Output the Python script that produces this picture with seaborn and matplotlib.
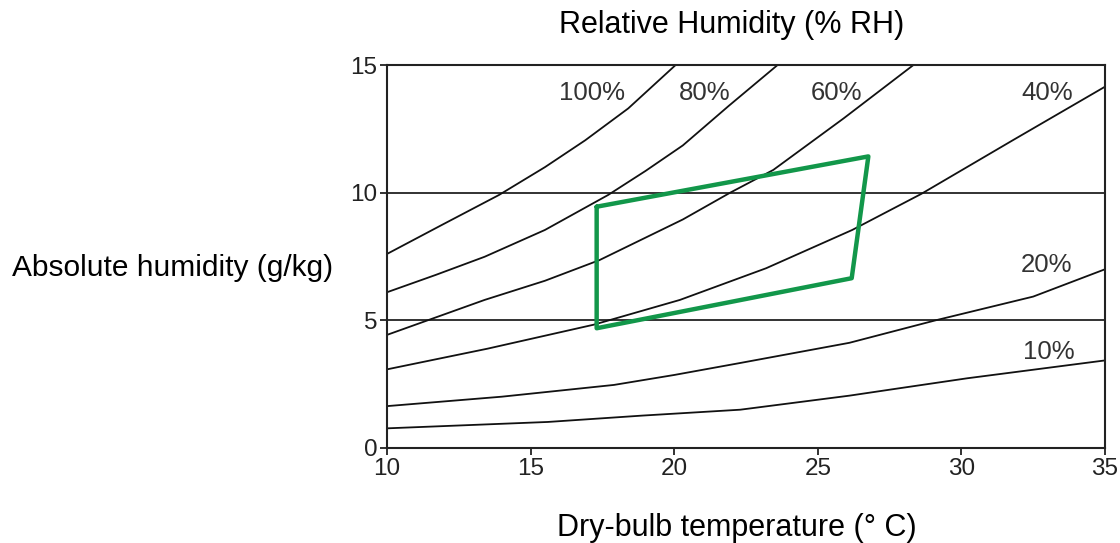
import matplotlib
matplotlib.use("Agg")
import matplotlib.pyplot as plt
import seaborn as sns
import pandas as pd

# ---- data ----
t100 = [10, 11.9, 13.9, 15.5, 16.9, 18.4, 20.05]
w100 = [7.6, 8.73, 9.91, 11.0, 12.05, 13.3, 15.0]

t80 = [10, 11.7, 13.4, 15.5, 17.7, 19.0, 20.3, 21.9, 23.6]
w80 = [6.1, 6.78, 7.49, 8.54, 9.91, 10.85, 11.85, 13.4, 15.0]

t60 = [10, 13.4, 15.5, 17.4, 20.3, 21.95, 23.45, 25.9, 28.33]
w60 = [4.43, 5.8, 6.55, 7.36, 8.95, 10.0, 10.89, 12.91, 15.0]

t40 = [10, 13.5, 17.2, 20.2, 23.2, 26.2, 28.6, 31.8, 35]
w40 = [3.08, 3.89, 4.83, 5.8, 7.04, 8.54, 9.95, 12.06, 14.15]

t20 = [10, 14, 17.9, 20, 22.3, 26.1, 29.1, 32.5, 35]
w20 = [1.64, 2.01, 2.47, 2.86, 3.33, 4.12, 5.0, 5.93, 7.0]

t10 = [10, 15.6, 18.9, 22.3, 26.1, 27.6, 30.2, 35]
w10 = [0.77, 1.02, 1.27, 1.5, 2.05, 2.3, 2.73, 3.43]

rh_labels = ["100%", "80%", "60%", "40%", "20%", "10%"]
label_t = [17.13, 21.07, 25.66, 32.97, 32.97, 33.03]
label_w = [13.9, 13.9, 13.9, 13.9, 7.17, 3.77]

zone_t = [17.3, 26.76, 26.18, 17.3, 17.3]
zone_w = [9.45, 11.42, 6.65, 4.69, 9.45]

x_ticks = [10, 15, 20, 25, 30, 35]
y_ticks = [0, 5, 10, 15]
grid_y = [5, 10]

title_text = "Relative Humidity (% RH)"
xlabel_text = "Dry-bulb temperature (° C)"
ylabel_text = "Absolute humidity (g/kg)"

# ---- build long-form table ----
curves = {"100%": (t100, w100), "80%": (t80, w80), "60%": (t60, w60),
          "40%": (t40, w40), "20%": (t20, w20), "10%": (t10, w10)}
rows = []
for name, (ts, ws) in curves.items():
    for t, w in zip(ts, ws):
        rows.append({"rh": name, "t": t, "w": w})
df = pd.DataFrame(rows)
zone = pd.DataFrame({"t": zone_t, "w": zone_w})

sns.set_theme(style="white")
plt.rcParams["font.family"] = ["Liberation Sans", "DejaVu Sans"]

fig = plt.figure(figsize=(11.2, 5.43), dpi=100)
ax = fig.add_axes([387 / 1120, 1 - 448 / 543, (1105 - 387) / 1120, (448 - 65) / 543])

for y in grid_y:
    ax.axhline(y, color="#222222", lw=1.3, zorder=1)

sns.lineplot(data=df, x="t", y="w", units="rh", estimator=None, sort=False,
             color="#111111", lw=1.3, ax=ax, legend=False, zorder=2)
sns.lineplot(data=zone, x="t", y="w", sort=False, estimator=None,
             color="#12974a", lw=3.2, ax=ax, legend=False, zorder=3)

for lab, tx, wy in zip(rh_labels, label_t, label_w):
    ax.text(tx, wy, lab, ha="center", va="center", fontsize=18.5,
            color="#333333", zorder=4)

ax.set_xlim(10, 35)
ax.set_ylim(0, 15)
ax.set_xticks(x_ticks)
ax.set_yticks(y_ticks)
ax.tick_params(axis="both", labelsize=17.5, colors="#222222", length=5,
               width=1.3, direction="out", pad=2, bottom=True, left=True)
for s in ax.spines.values():
    s.set_visible(True)
    s.set_color("#222222")
    s.set_linewidth(1.5)
ax.set_xlabel("")
ax.set_ylabel("")

fig.text(732 / 1120, 1 - 25 / 543, title_text, ha="center", va="center",
         fontsize=22, color="black")
fig.text(737 / 1120, 1 - 528 / 543, xlabel_text, ha="center", va="center",
         fontsize=22, color="black")
fig.text(333 / 1120, 1 - 268 / 543, ylabel_text, ha="right", va="center",
         fontsize=21.5, color="black")

fig.savefig("out.png", dpi=100)
